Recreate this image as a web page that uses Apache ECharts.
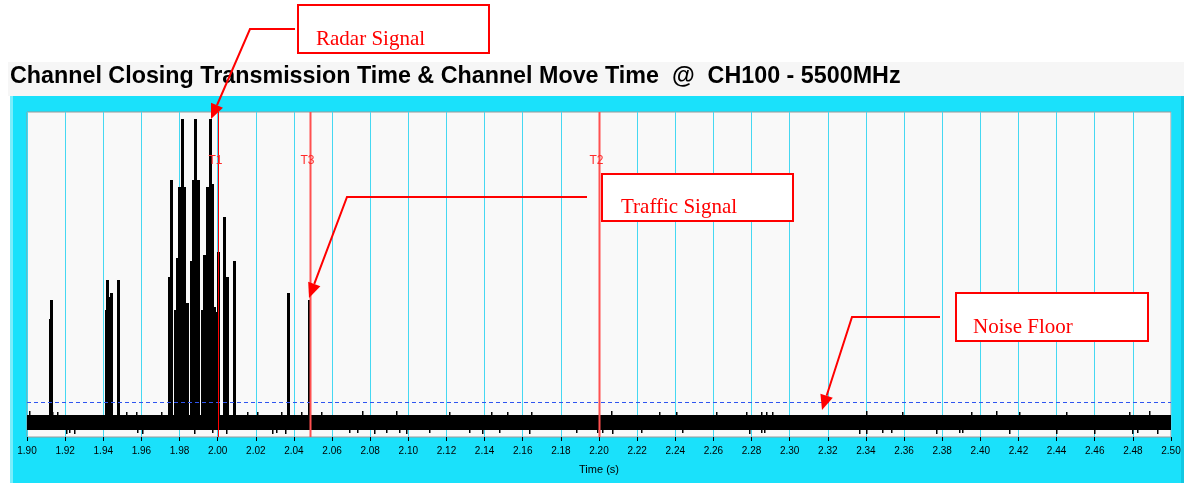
<!DOCTYPE html>
<html><head><meta charset="utf-8">
<script src="https://cdn.jsdelivr.net/npm/echarts@6/dist/echarts.min.js"></script>
<style>html,body{margin:0;padding:0;background:#fff;}#c{width:1184px;height:483px;}</style>
</head><body><div id="c"></div>
<script>
// ---------- DATA ----------
const chartTitle = 'Channel Closing Transmission Time & Channel Move Time  @  CH100 - 5500MHz';
const axisName = 'Time (s)';
const xMin = 1.90, xMax = 2.50, xStep = 0.02;   // tick labels 1.90 ... 2.50
const yMin = 0, yMax = 100;                      // relative amplitude (axis not labelled)

// radar / traffic pulses: time (s) and peak level
const pulseTimes  = [1.9125, 1.9130, 1.9418, 1.9424, 1.9437, 1.9442, 1.9479,
                     1.9749, 1.9759, 1.9778, 1.9791, 1.9801, 1.9817, 1.9825, 1.9840,
                     1.9862, 1.9872, 1.9885, 1.9901, 1.9919, 1.9930, 1.9945, 1.9961,
                     1.9972, 1.9982, 1.9990, 2.0003, 2.0035, 2.0045, 2.0053, 2.0087,
                     2.0373, 2.0483];
const pulseLevels = [36.3, 42.2, 39.1, 48.3, 43.1, 44.3, 48.3,
                     49.2, 79.1, 39.1, 55.1, 76.9, 97.8, 76.9, 41.2,
                     54.2, 79.1, 97.8, 79.1, 39.1, 56.0, 76.9, 97.8,
                     77.8, 40.0, 38.5, 56.9, 67.7, 45.8, 49.2, 54.2,
                     44.3, 42.2];

// noise floor band
const noiseLow = 2.2, noiseHigh = 6.8;
const upTickTimes  = [1.9016, 1.9138, 1.9164, 1.9523, 1.9575, 1.9706, 2.0161, 2.0213, 2.0336, 2.0441,
                      2.0546, 2.0764, 2.0939, 2.1219, 2.1437, 2.1524, 2.1647, 2.2067, 2.2320, 2.2408,
                      2.2617, 2.2775, 2.2853, 2.2880, 2.2914, 2.3404, 2.3596, 2.3955, 2.4086, 2.4208,
                      2.4453, 2.4785, 2.4890];
const upTickLevels = [8.0, 7.6, 7.6, 7.8, 7.6, 7.6, 7.8, 7.6, 7.6, 7.6,
                      7.8, 8.0, 8.0, 7.6, 7.8, 7.8, 7.6, 8.0, 7.6, 7.8,
                      7.6, 7.6, 7.8, 7.6, 7.8, 8.0, 7.8, 7.8, 8.0, 7.6,
                      7.8, 7.6, 8.0];
const downTickTimes  = [1.9208, 1.9226, 1.9252, 1.9584, 1.9610, 1.9881, 1.9977, 2.0047, 2.0292, 2.0310,
                        2.0358, 2.0694, 2.0738, 2.0825, 2.0887, 2.0956, 2.0991, 2.1114, 2.1323, 2.1393,
                        2.1481, 2.1638, 2.1883, 2.1996, 2.2023, 2.2075, 2.2224, 2.2442, 2.2792, 2.2853,
                        2.2871, 2.3369, 2.3404, 2.3491, 2.3535, 2.3771, 2.3893, 2.3911, 2.4156, 2.4401,
                        2.4601, 2.4802, 2.4829, 2.4934];
const downTickLevels = [1.0, 1.2, 1.0, 1.2, 1.0, 1.0, 1.2, 1.0, 1.0, 1.2,
                        1.0, 1.2, 1.2, 1.0, 1.2, 1.2, 1.0, 1.2, 1.2, 1.0,
                        1.2, 1.0, 1.2, 1.2, 1.2, 1.0, 1.2, 1.2, 1.0, 1.2,
                        1.2, 1.0, 1.0, 1.2, 1.2, 1.0, 1.2, 1.2, 1.0, 1.0,
                        1.0, 1.0, 1.2, 1.0];
const thresholdLevel = 10.9;

// time markers
const markerNames = ['T1', 'T3', 'T2'];
const markerTimes = [2.000, 2.0484, 2.200];

// annotation texts
const annotationTexts = ['Radar Signal', 'Traffic Signal', 'Noise Floor'];

// ---------- CHART ----------
const chart = echarts.init(document.getElementById('c'), null, {renderer: 'canvas'});

const CYAN = '#1ae1fb', RED = '#ff0000';

function arrow(pts) {
  const n = pts.length, tip = pts[n - 1], prev = pts[n - 2];
  const dx = tip[0] - prev[0], dy = tip[1] - prev[1], L = Math.hypot(dx, dy);
  const ux = dx / L, uy = dy / L, len = 15, hw = 6.5;
  const bx = tip[0] - ux * len, by = tip[1] - uy * len;
  const line = pts.slice(0, n - 1).concat([[bx, by]]);
  return [
    {type: 'polyline', z: 50, shape: {points: line}, style: {stroke: RED, lineWidth: 2, fill: null}},
    {type: 'polygon', z: 50, shape: {points: [tip, [bx - uy * hw, by + ux * hw], [bx + uy * hw, by - ux * hw]]}, style: {fill: RED}}
  ];
}
function box(x, y, w, h, text, tx, ty) {
  return [
    {type: 'rect', z: 50, shape: {x: x, y: y, width: w, height: h}, style: {fill: '#fff', stroke: RED, lineWidth: 2}},
    {type: 'text', z: 51, x: tx, y: ty, style: {text: text, fill: RED, font: '21px "Liberation Serif", "Times New Roman", serif', textVerticalAlign: 'bottom'}}
  ];
}

const graphics = [
  {type: 'rect', z: -5, shape: {x: 8, y: 62, width: 1176, height: 34}, style: {fill: '#f6f6f6'}},
  {type: 'rect', z: -5, shape: {x: 10, y: 96, width: 1174, height: 387}, style: {fill: CYAN}},
  {type: 'rect', z: -4, shape: {x: 10, y: 96, width: 3, height: 387}, style: {fill: '#7aeefc'}},
  {type: 'rect', z: -4, shape: {x: 1181, y: 96, width: 3, height: 387}, style: {fill: '#12c8e2'}},
  {type: 'text', z: 10, x: 10, y: 65, style: {text: chartTitle, fill: '#000', font: 'bold 23.3px "Liberation Sans", Arial, sans-serif'}},
]
  .concat(box(298, 5, 191, 48, annotationTexts[0], 316, 50))
  .concat(box(602, 174, 191, 47, annotationTexts[1], 621, 218))
  .concat(box(956, 293, 192, 48, annotationTexts[2], 973, 338))
  .concat(arrow([[295, 29], [250, 29], [211, 119]]))
  .concat(arrow([[587, 197], [347, 197], [309, 298]]))
  .concat(arrow([[940, 317], [852, 317], [822, 410]]));

const option = {
  backgroundColor: '#ffffff',
  animation: false,
  grid: {left: 27, right: 13, top: 112, bottom: 46, show: true, backgroundColor: '#f9f9f9', borderColor: '#9a9a9a', borderWidth: 1},
  xAxis: {
    type: 'value', min: xMin, max: xMax, interval: xStep, offset: 4,
    axisLine: {show: false},
    axisTick: {show: true, length: 4, lineStyle: {color: '#000', width: 1}},
    axisLabel: {margin: 5, color: '#000', fontSize: 10, fontFamily: '"Liberation Sans", Arial, sans-serif',
      formatter: v => v.toFixed(2)},
    splitLine: {show: true, lineStyle: {color: '#45d8f2', width: 1}},
    name: axisName, nameLocation: 'middle', nameGap: 23,
    nameTextStyle: {color: '#000', fontSize: 11, fontFamily: '"Liberation Sans", Arial, sans-serif'}
  },
  yAxis: {type: 'value', min: yMin, max: yMax, show: false, splitLine: {show: false}},
  graphic: graphics,
  series: [
    {
      type: 'custom', name: 'noise band', z: 2,
      encode: {x: [0, 1], y: [2, 3]},
      data: [[xMin, xMax, noiseLow, noiseHigh]],
      renderItem: (params, api) => {
        const a = api.coord([api.value(0), api.value(3)]);
        const b = api.coord([api.value(1), api.value(2)]);
        return {type: 'rect', shape: {x: a[0], y: Math.round(a[1]), width: b[0] - a[0], height: Math.round(b[1]) - Math.round(a[1])}, style: {fill: '#000'}};
      }
    },
    {
      type: 'custom', name: 'noise up', z: 2,
      encode: {x: 0, y: 1},
      data: upTickTimes.map((t, i) => [t, upTickLevels[i]]),
      renderItem: (params, api) => {
        const a = api.coord([api.value(0), api.value(1)]);
        const b = api.coord([api.value(0), noiseHigh]);
        return {type: 'rect', shape: {x: Math.round(a[0]) - 1, y: Math.round(a[1]), width: 1.5, height: Math.round(b[1]) - Math.round(a[1])}, style: {fill: '#000'}};
      }
    },
    {
      type: 'custom', name: 'noise down', z: 2,
      encode: {x: 0, y: 1},
      data: downTickTimes.map((t, i) => [t, downTickLevels[i]]),
      renderItem: (params, api) => {
        const a = api.coord([api.value(0), noiseLow]);
        const b = api.coord([api.value(0), api.value(1)]);
        return {type: 'rect', shape: {x: Math.round(a[0]) - 1, y: Math.round(a[1]), width: 1.5, height: Math.round(b[1]) - Math.round(a[1])}, style: {fill: '#000'}};
      }
    },
    {
      type: 'custom', name: 'pulses', z: 3,
      encode: {x: 0, y: 1},
      data: pulseTimes.map((t, i) => [t, pulseLevels[i]]),
      renderItem: (params, api) => {
        const a = api.coord([api.value(0), api.value(1)]);
        const b = api.coord([api.value(0), noiseLow]);
        const x0 = Math.round(a[0] - 1.5);
        return {type: 'rect', shape: {x: x0, y: Math.round(a[1]), width: 3, height: Math.round(b[1]) - Math.round(a[1])}, style: {fill: '#000'}};
      }
    },
    {
      type: 'custom', name: 'threshold', z: 4,
      encode: {x: [0, 1], y: 2},
      data: [[xMin, xMax, thresholdLevel]],
      renderItem: (params, api) => {
        const a = api.coord([api.value(0), api.value(2)]);
        const b = api.coord([api.value(1), api.value(2)]);
        const y = Math.round(a[1]) + 0.5;
        return {type: 'line', shape: {x1: a[0], y1: y, x2: b[0], y2: y}, style: {stroke: '#2f55f0', lineWidth: 1, lineDash: [4, 3]}};
      }
    },
    {
      type: 'custom', name: 'markers', z: 5,
      encode: {x: 0},
      data: markerTimes.map((t, i) => [t, 0, markerNames[i]]),
      renderItem: (params, api) => {
        const cs = params.coordSys;
        const x = Math.round(api.coord([api.value(0), 0])[0]) + 0.5;
        const first = params.dataIndex === 0;
        const col = first ? '#ff0000' : '#ff5050';
        return {type: 'group', children: [
          {type: 'line', shape: {x1: x, y1: cs.y, x2: x, y2: cs.y + cs.height}, style: {stroke: col, lineWidth: first ? 1 : 2}},
          {type: 'text', x: x - 3, y: cs.y + 49, style: {text: markerNames[params.dataIndex], fill: '#ff2a2a', font: '12px "Liberation Sans", Arial, sans-serif', textAlign: 'center', textVerticalAlign: 'middle'}}
        ]};
      }
    }
  ]
};
chart.setOption(option);
</script>
</body></html>
